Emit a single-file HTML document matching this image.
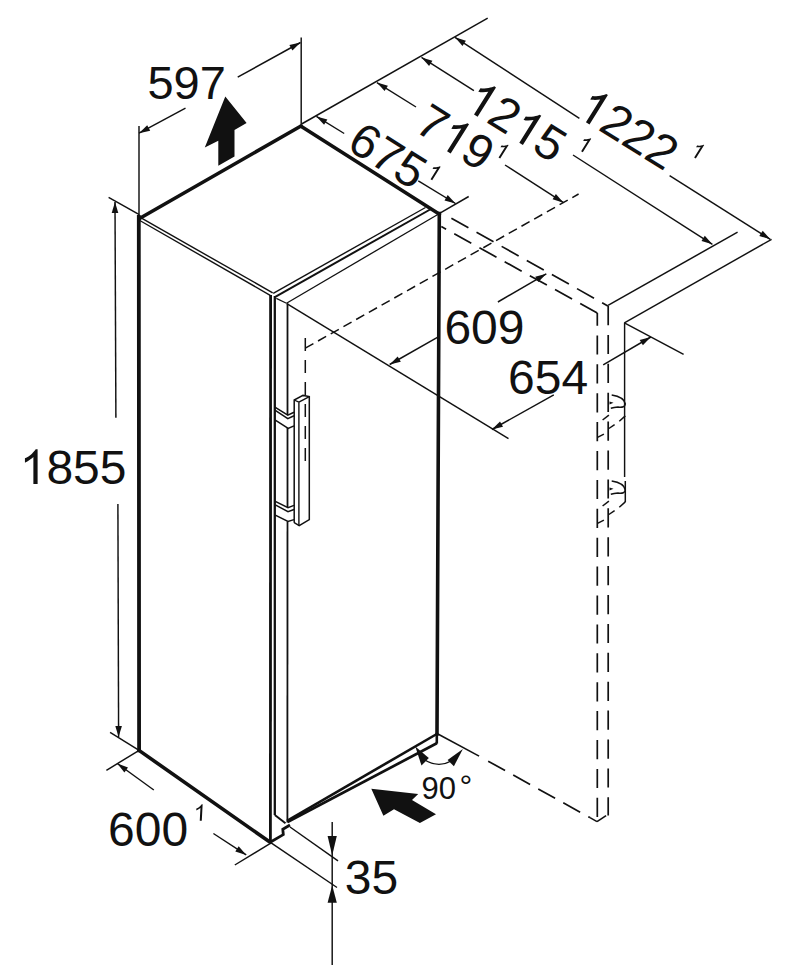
<!DOCTYPE html>
<html><head><meta charset="utf-8"><style>
html,body{margin:0;padding:0;background:#fff;width:794px;height:970px;overflow:hidden}
svg{display:block}
text{font-family:"Liberation Sans",sans-serif;fill:#111;stroke:none}
</style></head><body>
<svg width="794" height="970" viewBox="0 0 794 970" stroke="#111" fill="none">
<line x1="139.5" y1="218.5" x2="301" y2="126" stroke-width="3.6" stroke-linecap="round"/>
<line x1="301" y1="126.2" x2="439.5" y2="214.3" stroke-width="3.6" stroke-linecap="round"/>
<line x1="138.8" y1="217" x2="139.1" y2="750.4" stroke-width="3.8" stroke-linecap="square"/>
<line x1="139" y1="750.4" x2="270.2" y2="842.3" stroke-width="3.6" stroke-linecap="round"/>
<line x1="270.6" y1="295" x2="270.4" y2="842" stroke-width="2.8" stroke-linecap="butt"/>
<line x1="439.3" y1="213.5" x2="437" y2="734" stroke-width="3.6" stroke-linecap="square"/>
<line x1="141.5" y1="218.2" x2="272.7" y2="292.8" stroke-width="1.4" stroke-linecap="butt"/>
<line x1="139.8" y1="220.5" x2="270.2" y2="295.3" stroke-width="1.4" stroke-linecap="butt"/>
<line x1="273.2" y1="293.3" x2="425.5" y2="207.5" stroke-width="1.4" stroke-linecap="butt"/>
<line x1="275.3" y1="296.8" x2="431" y2="209" stroke-width="2.0" stroke-linecap="butt"/>
<line x1="276.3" y1="298.4" x2="286.5" y2="303.2" stroke-width="1.2" stroke-linecap="butt"/>
<line x1="286.5" y1="303.2" x2="439.5" y2="213.5" stroke-width="1.3" stroke-linecap="butt"/>
<line x1="274.8" y1="296" x2="274.8" y2="815" stroke-width="2.3" stroke-linecap="butt"/>
<line x1="287.5" y1="303.4" x2="287.5" y2="415" stroke-width="1.8" stroke-linecap="butt"/>
<line x1="287.5" y1="428" x2="287.5" y2="507" stroke-width="1.8" stroke-linecap="butt"/>
<line x1="287.5" y1="521.5" x2="287.4" y2="822.5" stroke-width="1.8" stroke-linecap="butt"/>
<line x1="274.8" y1="815" x2="285.5" y2="823.3" stroke-width="2.0" stroke-linecap="butt"/>
<line x1="287" y1="820.8" x2="436.8" y2="734.0" stroke-width="2.6" stroke-linecap="butt"/>
<line x1="287.5" y1="822.0" x2="436.8" y2="743.3" stroke-width="2.7" stroke-linecap="butt"/>
<line x1="436.8" y1="733.3" x2="436.8" y2="743.7" stroke-width="2.6" stroke-linecap="butt"/>
<polyline points="270.2,842.2 283.3,834.6 282.8,829.3 290,825" stroke-width="2.8" fill="none" stroke-linejoin="miter"/>
<polyline points="294.2,522.7 294.2,400 303,395.4 309.3,396.6 309.3,519.6 299.2,525.6 294.2,522.7" stroke-width="1.5" fill="none" stroke-linejoin="miter"/>
<line x1="298.9" y1="402.2" x2="298.9" y2="525.6" stroke-width="1.4" stroke-linecap="butt"/>
<line x1="294.2" y1="400" x2="298.9" y2="402.2" stroke-width="1.3" stroke-linecap="butt"/>
<line x1="298.9" y1="402.2" x2="309.3" y2="396.6" stroke-width="1.4" stroke-linecap="butt"/>
<polyline points="275.3,407.3 287.8,415.2 294,412.3" stroke-width="1.5" fill="none" stroke-linejoin="miter"/>
<polyline points="275.3,410.3 287.8,418.6 294,415.8" stroke-width="1.5" fill="none" stroke-linejoin="miter"/>
<polyline points="275.3,420.2 288.2,428.4 294,425.9" stroke-width="1.5" fill="none" stroke-linejoin="miter"/>
<polyline points="275.3,501.3 288,507.6 294,505.4" stroke-width="1.5" fill="none" stroke-linejoin="miter"/>
<polyline points="275.3,504.8 288,511.7 294,509.5" stroke-width="1.5" fill="none" stroke-linejoin="miter"/>
<polyline points="275.3,515.2 288,521.5 294,519.6" stroke-width="1.5" fill="none" stroke-linejoin="miter"/>
<line x1="139" y1="126" x2="139" y2="215" stroke-width="1.45" stroke-linecap="butt"/>
<line x1="301.2" y1="37.5" x2="301.2" y2="124" stroke-width="1.45" stroke-linecap="butt"/>
<line x1="185.5" y1="108.2" x2="139" y2="133.2" stroke-width="1.45" stroke-linecap="butt"/>
<polygon points="139.0,133.2 147.2,125.3 150.2,130.7" stroke="none" fill="#111"/>
<line x1="237.7" y1="77.2" x2="300.5" y2="42.5" stroke-width="1.45" stroke-linecap="butt"/>
<polygon points="300.5,42.5 292.4,50.5 289.4,45.1" stroke="none" fill="#111"/>
<g transform="translate(147.4,99.3)"><text x="0.00" y="0.00" font-size="47">5</text><text x="26.13" y="0.00" font-size="47">9</text><text x="52.26" y="0.00" font-size="47">7</text></g>
<polygon points="225.3,96.6 246.6,123 234.5,130 234.5,156.4 218.3,165.7 218.3,140.7 204.8,147.6" stroke-width="0" fill="#111" stroke-linejoin="miter"/>
<line x1="108.6" y1="197.3" x2="139.3" y2="214.7" stroke-width="1.45" stroke-linecap="butt"/>
<line x1="110.1" y1="732.3" x2="139.1" y2="750.4" stroke-width="1.45" stroke-linecap="butt"/>
<line x1="115.9" y1="417.8" x2="115" y2="202" stroke-width="1.45" stroke-linecap="butt"/>
<polygon points="115.0,202.0 118.3,213.0 111.7,213.0" stroke="none" fill="#111"/>
<line x1="117.9" y1="503.9" x2="118.6" y2="737" stroke-width="1.45" stroke-linecap="butt"/>
<polygon points="118.6,737.0 115.3,726.0 121.9,726.0" stroke="none" fill="#111"/>
<g transform="translate(19.7,484)"><path transform="translate(0.00,0.00) scale(0.0480)" d="M373,0 L285,0 L285,-560 C250,-527 205,-494 150,-466 C128,-455 109,-448 109,-448 L109,-535 C160,-559 210,-590 250,-627 C290,-664 318,-696 333,-722 L373,-722 Z" stroke="none" fill="#111"/><text x="26.69" y="0.00" font-size="48">8</text><text x="53.38" y="0.00" font-size="48">5</text><text x="80.06" y="0.00" font-size="48">5</text></g>
<line x1="139.1" y1="750.4" x2="106.4" y2="770.3" stroke-width="1.45" stroke-linecap="butt"/>
<line x1="270" y1="843.6" x2="234.8" y2="865" stroke-width="1.45" stroke-linecap="butt"/>
<line x1="153.8" y1="790" x2="117.3" y2="763.5" stroke-width="1.45" stroke-linecap="butt"/>
<polygon points="117.3,763.5 128.0,767.5 124.4,772.5" stroke="none" fill="#111"/>
<line x1="213.4" y1="833.5" x2="246.2" y2="854.9" stroke-width="1.45" stroke-linecap="butt"/>
<polygon points="246.2,854.9 235.3,851.5 238.7,846.3" stroke="none" fill="#111"/>
<g transform="translate(108.1,845.7)"><text x="0.00" y="0.00" font-size="48">6</text><text x="26.69" y="0.00" font-size="48">0</text><text x="53.38" y="0.00" font-size="48">0</text></g>
<g transform="translate(193.2,820.8) skewX(-3)"><path transform="translate(0.00,0.00) scale(0.0230)" d="M373,0 L285,0 L285,-560 C250,-527 205,-494 150,-466 C128,-455 109,-448 109,-448 L109,-535 C160,-559 210,-590 250,-627 C290,-664 318,-696 333,-722 L373,-722 Z" stroke="none" fill="#111"/></g>
<line x1="290" y1="827" x2="338" y2="860.8" stroke-width="1.45" stroke-linecap="butt"/>
<line x1="270" y1="842.2" x2="337" y2="887.5" stroke-width="1.45" stroke-linecap="butt"/>
<line x1="332.2" y1="821.9" x2="332.2" y2="965" stroke-width="1.45" stroke-linecap="butt"/>
<polygon points="332.2,855.6 327.6,836.1 336.8,836.1" stroke="none" fill="#111"/>
<polygon points="332.2,885.3 336.8,902.8 327.6,902.8" stroke="none" fill="#111"/>
<g transform="translate(344.7,894)"><text x="0.00" y="0.00" font-size="48">3</text><text x="26.69" y="0.00" font-size="48">5</text></g>
<line x1="301.6" y1="124" x2="487.7" y2="18.1" stroke-width="1.45" stroke-linecap="butt"/>
<line x1="344.2" y1="133.5" x2="316.4" y2="116.4" stroke-width="1.45" stroke-linecap="butt"/>
<polygon points="316.4,116.4 327.4,119.5 324.1,124.8" stroke="none" fill="#111"/>
<line x1="418.3" y1="180.8" x2="455.5" y2="203.5" stroke-width="1.45" stroke-linecap="butt"/>
<polygon points="455.5,203.5 444.5,200.4 447.7,195.1" stroke="none" fill="#111"/>
<line x1="440.4" y1="212.9" x2="468.7" y2="196.5" stroke-width="1.45" stroke-linecap="butt"/>
<line x1="416" y1="107" x2="376.9" y2="82.6" stroke-width="1.45" stroke-linecap="butt"/>
<polygon points="376.9,82.6 387.9,85.8 384.6,91.1" stroke="none" fill="#111"/>
<line x1="505" y1="165" x2="563.5" y2="202.7" stroke-width="1.45" stroke-linecap="butt"/>
<polygon points="563.5,202.7 552.6,199.3 555.9,194.1" stroke="none" fill="#111"/>
<line x1="473.9" y1="90.7" x2="421.5" y2="57.4" stroke-width="1.45" stroke-linecap="butt"/>
<polygon points="421.5,57.4 432.4,60.7 429.1,65.9" stroke="none" fill="#111"/>
<line x1="573" y1="155" x2="712.4" y2="244.3" stroke-width="1.45" stroke-linecap="butt"/>
<polygon points="712.4,244.3 701.5,241.0 704.8,235.8" stroke="none" fill="#111"/>
<line x1="737.6" y1="232.2" x2="608" y2="305.3" stroke-width="1.5" stroke-linecap="butt"/>
<line x1="579.4" y1="118.4" x2="455" y2="37.3" stroke-width="1.45" stroke-linecap="butt"/>
<polygon points="455.0,37.3 465.9,40.7 462.5,45.9" stroke="none" fill="#111"/>
<line x1="669.6" y1="175.6" x2="770.3" y2="239.3" stroke-width="1.45" stroke-linecap="butt"/>
<polygon points="770.3,239.3 759.3,236.0 762.7,230.8" stroke="none" fill="#111"/>
<line x1="771.6" y1="239.3" x2="624.4" y2="322.9" stroke-width="1.45" stroke-linecap="butt"/>
<g transform="translate(388.2,154.8) rotate(32)"><text x="-40.03" y="17.18" font-size="48">6</text><text x="-13.34" y="17.18" font-size="48">7</text><text x="13.34" y="17.18" font-size="48">5</text></g>
<g transform="translate(455.9,136.6) rotate(32)"><text x="-40.03" y="17.18" font-size="48">7</text><path transform="translate(-13.34,17.18) scale(0.0480)" d="M373,0 L285,0 L285,-560 C250,-527 205,-494 150,-466 C128,-455 109,-448 109,-448 L109,-535 C160,-559 210,-590 250,-627 C290,-664 318,-696 333,-722 L373,-722 Z" stroke="none" fill="#111"/><text x="13.34" y="17.18" font-size="48">9</text></g>
<g transform="translate(516.8,121) rotate(32)"><path transform="translate(-53.38,17.18) scale(0.0480)" d="M373,0 L285,0 L285,-560 C250,-527 205,-494 150,-466 C128,-455 109,-448 109,-448 L109,-535 C160,-559 210,-590 250,-627 C290,-664 318,-696 333,-722 L373,-722 Z" stroke="none" fill="#111"/><text x="-26.69" y="17.18" font-size="48">2</text><path transform="translate(0.00,17.18) scale(0.0480)" d="M373,0 L285,0 L285,-560 C250,-527 205,-494 150,-466 C128,-455 109,-448 109,-448 L109,-535 C160,-559 210,-590 250,-627 C290,-664 318,-696 333,-722 L373,-722 Z" stroke="none" fill="#111"/><text x="26.69" y="17.18" font-size="48">5</text></g>
<g transform="translate(628.7,128.7) rotate(32)"><path transform="translate(-53.38,17.18) scale(0.0480)" d="M373,0 L285,0 L285,-560 C250,-527 205,-494 150,-466 C128,-455 109,-448 109,-448 L109,-535 C160,-559 210,-590 250,-627 C290,-664 318,-696 333,-722 L373,-722 Z" stroke="none" fill="#111"/><text x="-26.69" y="17.18" font-size="48">2</text><text x="0.00" y="17.18" font-size="48">2</text><text x="26.69" y="17.18" font-size="48">2</text></g>
<g transform="translate(434.6,172.4) rotate(32)"><path transform="translate(-6.12,7.88) scale(0.0220)" d="M373,0 L285,0 L285,-560 C250,-527 205,-494 150,-466 C128,-455 109,-448 109,-448 L109,-535 C160,-559 210,-590 250,-627 C290,-664 318,-696 333,-722 L373,-722 Z" stroke="none" fill="#111"/></g>
<g transform="translate(502.6,150.8) rotate(32)"><path transform="translate(-6.12,7.88) scale(0.0220)" d="M373,0 L285,0 L285,-560 C250,-527 205,-494 150,-466 C128,-455 109,-448 109,-448 L109,-535 C160,-559 210,-590 250,-627 C290,-664 318,-696 333,-722 L373,-722 Z" stroke="none" fill="#111"/></g>
<g transform="translate(585.2,144.4) rotate(32)"><path transform="translate(-6.12,7.88) scale(0.0220)" d="M373,0 L285,0 L285,-560 C250,-527 205,-494 150,-466 C128,-455 109,-448 109,-448 L109,-535 C160,-559 210,-590 250,-627 C290,-664 318,-696 333,-722 L373,-722 Z" stroke="none" fill="#111"/></g>
<g transform="translate(698.2,150.8) rotate(32)"><path transform="translate(-6.12,7.88) scale(0.0220)" d="M373,0 L285,0 L285,-560 C250,-527 205,-494 150,-466 C128,-455 109,-448 109,-448 L109,-535 C160,-559 210,-590 250,-627 C290,-664 318,-696 333,-722 L373,-722 Z" stroke="none" fill="#111"/></g>
<line x1="437.4" y1="337.3" x2="389.7" y2="364.5" stroke-width="1.45" stroke-linecap="butt"/>
<polygon points="389.7,364.5 397.7,356.4 400.8,361.7" stroke="none" fill="#111"/>
<line x1="497.9" y1="302" x2="546.3" y2="273.8" stroke-width="1.45" stroke-linecap="butt"/>
<polygon points="546.3,273.8 538.4,282.0 535.2,276.7" stroke="none" fill="#111"/>
<g transform="translate(444.4,344)"><text x="0.00" y="0.00" font-size="48">6</text><text x="26.69" y="0.00" font-size="48">0</text><text x="53.38" y="0.00" font-size="48">9</text></g>
<line x1="553.8" y1="394.8" x2="491.9" y2="429.5" stroke-width="1.45" stroke-linecap="butt"/>
<polygon points="491.9,429.5 500.0,421.4 503.0,426.8" stroke="none" fill="#111"/>
<line x1="603.2" y1="364.8" x2="650.8" y2="337" stroke-width="1.45" stroke-linecap="butt"/>
<polygon points="650.8,337.0 642.9,345.2 639.7,339.9" stroke="none" fill="#111"/>
<line x1="286.8" y1="303.6" x2="508.5" y2="438.6" stroke-width="1.45" stroke-linecap="butt"/>
<line x1="624.4" y1="322.9" x2="683.6" y2="354.4" stroke-width="1.45" stroke-linecap="butt"/>
<g transform="translate(508,393.7)"><text x="0.00" y="0.00" font-size="48">6</text><text x="26.69" y="0.00" font-size="48">5</text><text x="53.38" y="0.00" font-size="48">4</text></g>
<line x1="441.3" y1="226.6" x2="597.6" y2="313.2" stroke-width="1.7" stroke-dasharray="19.5 9.3" stroke-dashoffset="14"/>
<line x1="451.4" y1="218.2" x2="607.8" y2="305.9" stroke-width="1.7" stroke-dasharray="19.5 9.3" stroke-dashoffset="0"/>
<line x1="597.3" y1="313" x2="597.3" y2="821.6" stroke-width="1.7" stroke-dasharray="19.2 9.7" stroke-dashoffset="6.5"/>
<line x1="608.2" y1="306" x2="608.2" y2="815.6" stroke-width="1.7" stroke-dasharray="19.2 9.7" stroke-dashoffset="0"/>
<line x1="606.1" y1="815.6" x2="597" y2="821.6" stroke-width="1.6" stroke-linecap="butt"/>
<line x1="437" y1="733.5" x2="479.1" y2="756.1" stroke-width="1.6" stroke-linecap="butt"/>
<line x1="488.2" y1="761.2" x2="590" y2="817.6" stroke-width="1.7" stroke-dasharray="19.3 9.3" stroke-dashoffset="0"/>
<line x1="590" y1="817.6" x2="597" y2="821.6" stroke-width="1.6" stroke-linecap="butt"/>
<line x1="624.6" y1="322.6" x2="624.6" y2="477" stroke-width="1.45" stroke-linecap="butt"/>
<path d="M611.7,395.1 Q624,397 625.3,404 Q625,408 618,407 Q614,407.5 610.8,408.3" fill="none" stroke-width="1.5"/>
<polygon points="609.5,401.4 613.5,402.8 609.5,404.5" fill="#111" stroke="none"/>
<line x1="619.3" y1="421.2" x2="625.3" y2="415.9" stroke-width="1.5" stroke-linecap="butt"/>
<line x1="608.9" y1="428.5" x2="614.6" y2="424.7" stroke-width="1.5" stroke-linecap="butt"/>
<line x1="597.5" y1="437.3" x2="603.9" y2="434.1" stroke-width="1.5" stroke-linecap="butt"/>
<line x1="602.6" y1="420" x2="608.9" y2="415.2" stroke-width="1.5" stroke-linecap="butt"/>
<path d="M611.7,481.1 Q624,483 625.3,490 Q625,494 618,493 Q614,493.5 610.8,494.3" fill="none" stroke-width="1.5"/>
<polygon points="609.5,487.4 613.5,488.8 609.5,490.5" fill="#111" stroke="none"/>
<line x1="619.3" y1="507.2" x2="625.3" y2="501.9" stroke-width="1.5" stroke-linecap="butt"/>
<line x1="608.9" y1="514.5" x2="614.6" y2="510.7" stroke-width="1.5" stroke-linecap="butt"/>
<line x1="597.5" y1="523.3" x2="603.9" y2="520.1" stroke-width="1.5" stroke-linecap="butt"/>
<line x1="602.6" y1="506" x2="608.9" y2="501.2" stroke-width="1.5" stroke-linecap="butt"/>
<line x1="625.3" y1="481" x2="625.3" y2="502" stroke-width="1.5" stroke-linecap="butt"/>
<line x1="305.3" y1="348.2" x2="578.6" y2="194" stroke-width="1.5" stroke-dasharray="9.3 5.3" stroke-dashoffset="0"/>
<line x1="305.3" y1="338" x2="305.3" y2="462" stroke-width="1.5" stroke-dasharray="13 9" stroke-dashoffset="0"/>
<path d="M424,759.5 Q438,768.5 451,761" fill="none" stroke-width="1.4"/>
<polygon points="415.3,746.5 428.8,757.9 421.5,765.6" stroke-width="0" fill="#111" stroke-linejoin="miter"/>
<polygon points="462.9,749.1 447.6,760.1 453.9,766.2" stroke-width="0" fill="#111" stroke-linejoin="miter"/>
<g transform="translate(421.6,799)"><text x="0.00" y="0.00" font-size="31">9</text><text x="17.24" y="0.00" font-size="31">0</text></g>
<g transform="translate(459.5,796.5)"><text x="0.00" y="0.00" font-size="32">°</text></g>
<polygon points="371.3,788.8 418.2,794 412,800 436,814.2 419.9,823 394,809.2 383.4,815.8" stroke-width="0" fill="#111" stroke-linejoin="miter"/>
</svg></body></html>
